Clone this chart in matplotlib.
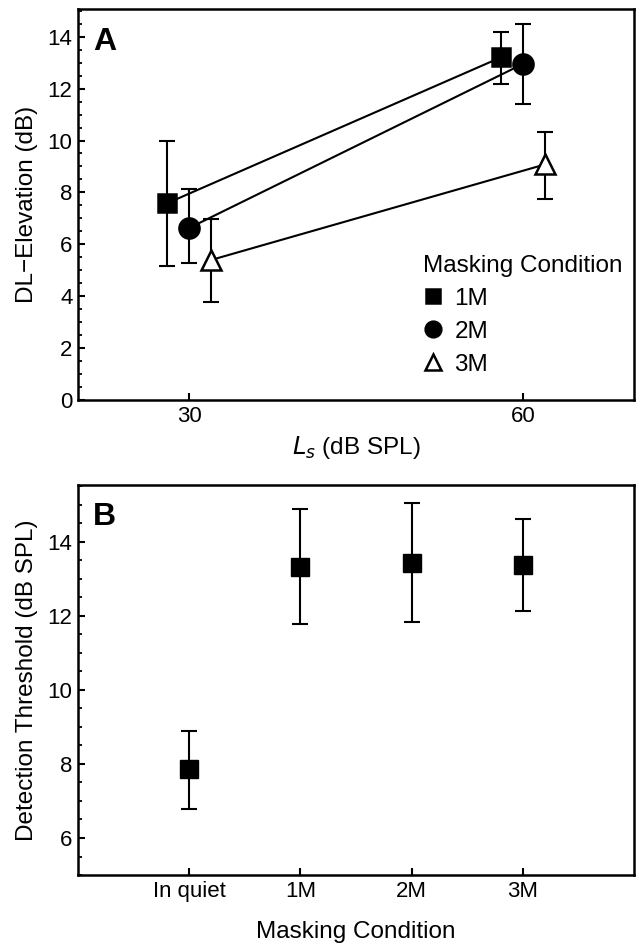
import matplotlib
matplotlib.use('Agg')

import matplotlib.pyplot as plt
from matplotlib.ticker import MultipleLocator
from matplotlib.lines import Line2D

plt.rcParams['font.family'] = ['Liberation Sans', 'DejaVu Sans']

# -------- Panel A data ---------
levels = [30, 60]
conditions = ['1M', '2M', '3M']
offsets = [-2, 0, 2]  # horizontal jitter for readability
dl_mean = {
    '1M': [7.58, 13.2],
    '2M': [6.63, 12.95],
    '3M': [5.4, 9.08],
}
dl_lo = {
    '1M': [5.18, 12.18],
    '2M': [5.27, 11.4],
    '3M': [3.79, 7.74],
}
dl_hi = {
    '1M': [9.98, 14.17],
    '2M': [8.12, 14.49],
    '3M': [6.97, 10.34],
}

# -------- Panel B data ---------
b_labels = ['In quiet', '1M', '2M', '3M']
thr_mean = [7.86, 13.32, 13.43, 13.37]
thr_lo = [6.77, 11.77, 11.84, 12.13]
thr_hi = [8.88, 14.87, 15.04, 14.6]

markers = {'1M': 's', '2M': 'o', '3M': '^'}
faces = {'1M': 'black', '2M': 'black', '3M': 'white'}
msizes = {'1M': 13, '2M': 14.5, '3M': 14}

fig = plt.figure(figsize=(6.36, 9.47), dpi=100)
axA = fig.add_axes([0.1226, 0.5776, 0.8745, 0.4124])
axB = fig.add_axes([0.1226, 0.0760, 0.8745, 0.4120])


def style_axes(ax):
    for sp in ax.spines.values():
        sp.set_linewidth(1.8)
    ax.tick_params(axis='both', which='major', direction='in', length=5,
                   width=1.5, labelsize=16, pad=4)
    ax.tick_params(axis='y', which='minor', direction='in', length=3, width=1.3)
    ax.tick_params(axis='x', which='minor', bottom=False)


# --------- Panel A ---------
for cond, off in zip(conditions, offsets):
    xs = [lv + off for lv in levels]
    ys = dl_mean[cond]
    yerr = [[m - l for m, l in zip(ys, dl_lo[cond])],
            [h - m for m, h in zip(ys, dl_hi[cond])]]
    axA.plot(xs, ys, color='black', lw=1.5, zorder=2)
    axA.errorbar(xs, ys, yerr=yerr, fmt='none', ecolor='black', elinewidth=1.5,
                 capsize=6, capthick=1.5, zorder=3)
    axA.plot(xs, ys, ls='none', marker=markers[cond], ms=msizes[cond],
             mfc=faces[cond], mec='black', mew=1.8, zorder=4)

axA.set_xlim(20, 70)
axA.set_ylim(0, 15.05)
axA.set_xticks(levels)
axA.yaxis.set_major_locator(MultipleLocator(2))
axA.yaxis.set_minor_locator(MultipleLocator(0.5))
style_axes(axA)
axA.set_ylabel('DL\u2212Elevation (dB)', fontsize=17.5, labelpad=7)
axA.set_xlabel(r'$L_s$ (dB SPL)', fontsize=17.5, labelpad=5)
axA.text(0.027, 0.955, 'A', transform=axA.transAxes, fontsize=23,
         fontweight='bold', va='top', ha='left')

handles = [Line2D([], [], ls='none', marker=markers[c], ms=msizes[c] * 0.78,
                  mfc=faces[c], mec='black', mew=1.8) for c in conditions]
leg = axA.legend(handles, conditions, title='Masking Condition',
                 loc='lower left', bbox_to_anchor=(0.62, 0.062),
                 frameon=False, fontsize=17.5, title_fontsize=17.5,
                 handlelength=0.8, handletextpad=0.5, labelspacing=0.45,
                 borderpad=0, borderaxespad=0)
leg._legend_box.align = 'left'

# --------- Panel B ---------
bx = list(range(len(b_labels)))
yerrB = [[m - l for m, l in zip(thr_mean, thr_lo)],
         [h - m for m, h in zip(thr_mean, thr_hi)]]
axB.errorbar(bx, thr_mean, yerr=yerrB, fmt='none', ecolor='black',
             elinewidth=1.5, capsize=6, capthick=1.5, zorder=3)
axB.plot(bx, thr_mean, ls='none', marker='s', ms=13, mfc='black',
         mec='black', zorder=4)
axB.set_xlim(-1, 4)
axB.set_ylim(5, 15.53)
axB.set_xticks(bx)
axB.set_xticklabels(b_labels)
axB.yaxis.set_major_locator(MultipleLocator(2))
axB.yaxis.set_minor_locator(MultipleLocator(0.5))
style_axes(axB)
axB.set_ylabel('Detection Threshold (dB SPL)', fontsize=17.5, labelpad=7)
axB.set_xlabel('Masking Condition', fontsize=17.5, labelpad=14)
axB.text(0.027, 0.955, 'B', transform=axB.transAxes, fontsize=23,
         fontweight='bold', va='top', ha='left')

fig.savefig('out.png', dpi=100)
